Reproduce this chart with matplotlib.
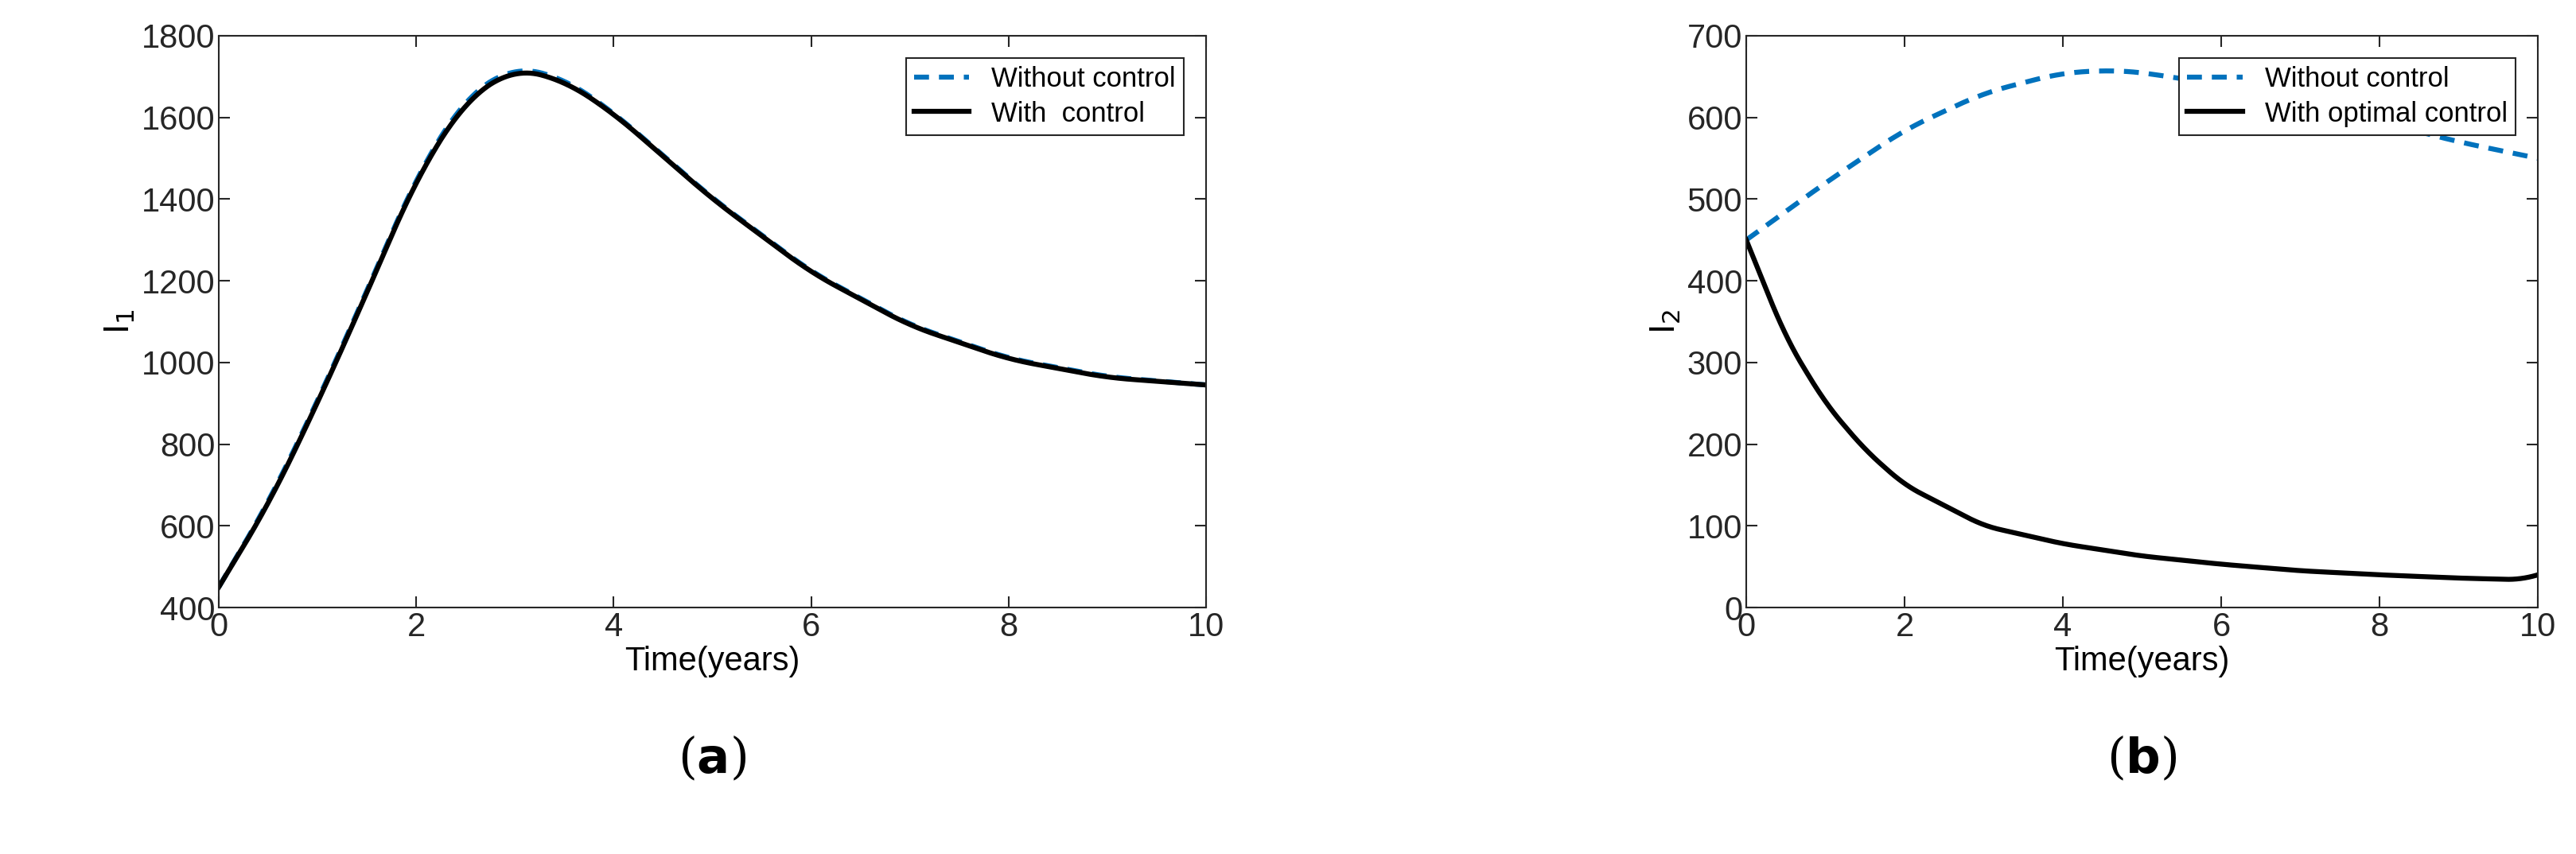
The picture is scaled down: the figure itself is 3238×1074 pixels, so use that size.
import matplotlib.pyplot as plt
import numpy as np

plt.rcParams["font.family"] = "Liberation Sans"

t_a = [0, 0.5, 1, 1.5, 2, 2.5, 3, 3.5, 4, 5, 6, 7, 8, 9, 10]
i1_without = [450, 655, 905, 1175, 1455, 1650, 1725, 1695, 1612, 1402, 1222, 1092, 1010, 965, 945]
i1_with = [450, 650, 900, 1170, 1450, 1642, 1720, 1690, 1610, 1400, 1220, 1090, 1008, 963, 945]

t_b_without = [0, 1, 2, 3, 4, 4.7, 5, 6, 7, 8, 9, 10]
i2_without = [450, 520, 585, 630, 655, 658, 655, 640, 620, 595, 570, 550]
t_b_with = [0, 0.5, 1, 1.5, 2, 3, 4, 5, 6, 7, 8, 9, 9.8, 10]
i2_with = [450, 330, 250, 193, 150, 100, 78, 63, 53, 45, 40, 36, 34, 40]


def smooth(x, y, w=15):
    xs = np.linspace(x[0], x[-1], 600)
    ys = np.interp(xs, x, y)
    k = np.ones(w) / w
    pad = np.pad(ys, w // 2, mode="reflect", reflect_type="odd")
    return xs, np.convolve(pad, k, mode="valid")


fig = plt.figure(figsize=(32.38, 10.74), dpi=100)
ax1 = fig.add_axes([275 / 3238, 1 - 764 / 1074, (1516 - 275) / 3238, (764 - 45) / 1074])
ax2 = fig.add_axes([2195 / 3238, 1 - 764 / 1074, (3190 - 2195) / 3238, (764 - 45) / 1074])

blue = "#0072BD"
x, y = smooth(t_a, i1_without, 31)
ax1.plot(x, y, "--", color=blue, lw=4.5, dashes=(3, 2), label="Without control")
x, y = smooth(t_a, i1_with, 31)
ax1.plot(x, y, "-", color="black", lw=4.5, label="With  control")
ax1.set_ylim(400, 1800)
ax1.set_ylabel("I$_1$", fontsize=32)

x, y = smooth(t_b_without, i2_without, 41)
ax2.plot(x, y, "--", color=blue, lw=4.5, dashes=(3, 2), label="Without control")
x, y = smooth(t_b_with, i2_with, 25)
ax2.plot(x, y, "-", color="black", lw=4.5, label="With optimal control")
ax2.set_ylim(0, 700)
ax2.set_ylabel("I$_2$", fontsize=32)

for ax, lab in [(ax1, "a"), (ax2, "b")]:
    ax.set_xlim(0, 10)
    ax.set_xlabel("Time(years)", fontsize=30, labelpad=2)
    ax.tick_params(labelsize=30, direction="in", length=10, width=1.5,
                   top=True, right=True, color="#262626", labelcolor="#262626")
    for s in ax.spines.values():
        s.set_color("#262626")
        s.set_linewidth(1.5)
    leg = ax.legend(loc="upper right", fontsize=25, fancybox=False, edgecolor="#262626",
                    framealpha=1, handlelength=2.0, borderaxespad=0.8, borderpad=0.3,
                    labelspacing=0.3)
    leg.get_frame().set_linewidth(1.5)
    ax.text(0.5, -0.265, "(" + r"$\mathbf{" + lab + "}$" + ")", transform=ax.transAxes,
            ha="center", va="center", fontsize=44, family="DejaVu Serif")

fig.savefig("out.png", dpi=100)
